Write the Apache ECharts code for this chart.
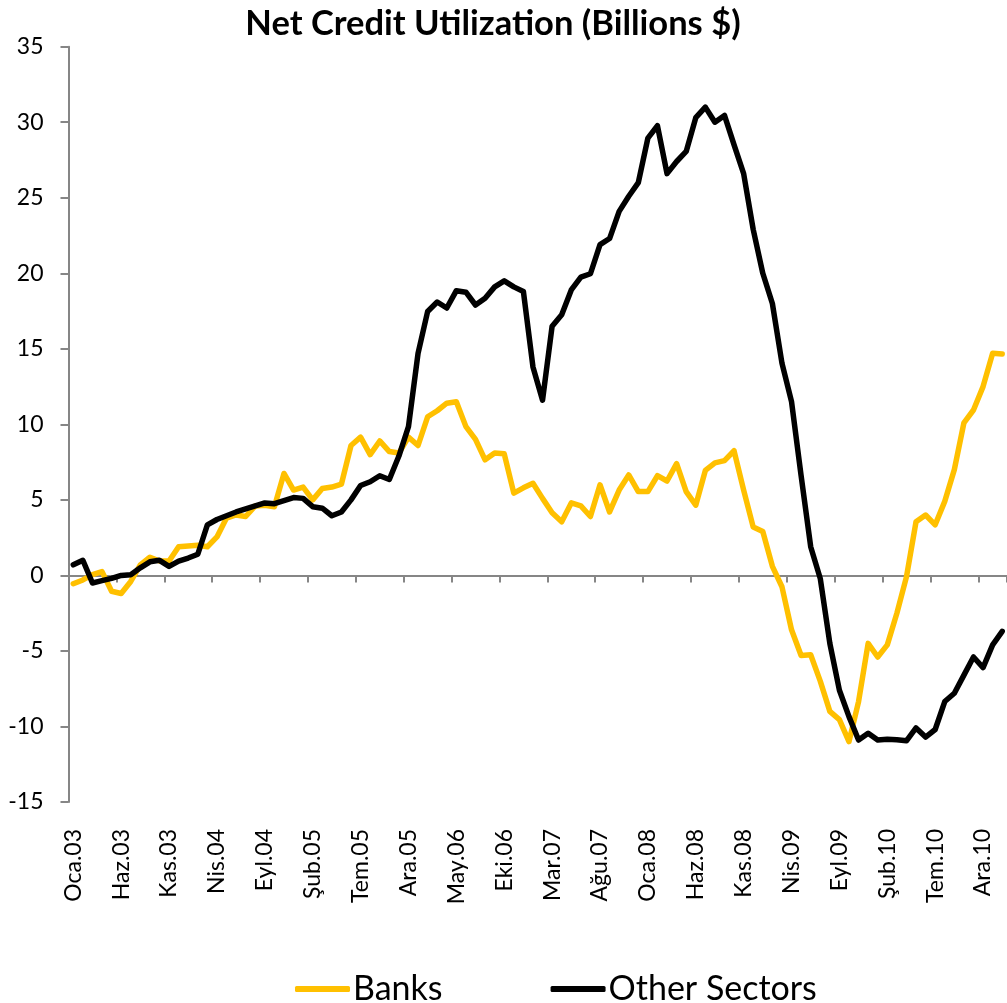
<!DOCTYPE html>
<html>
<head>
<meta charset="utf-8">
<script src="https://cdn.jsdelivr.net/npm/echarts@6/dist/echarts.min.js"></script>
<style>
html,body{margin:0;padding:0;background:#fff;}
#main{width:1007px;height:1003px;}
</style>
</head>
<body>
<div id="main"></div>
<script>
const monthNames = ['Oca','Şub','Mar','Nis','May','Haz','Tem','Ağu','Eyl','Eki','Kas','Ara'];
const yearLabels = ['03','04','05','06','07','08','09','10','11'];
const monthCount = 98;

const banks = [
  -0.55, -0.3, 0.05, 0.25, -1.05, -1.2, -0.4, 0.7, 1.2, 0.95,
  0.95, 1.9, 1.95, 2.0, 1.9, 2.55, 3.8, 4.0, 3.9, 4.6,
  4.65, 4.55, 6.75, 5.65, 5.85, 5.0, 5.75, 5.85, 6.05, 8.6,
  9.15, 8.0, 8.9, 8.2, 8.1, 9.15, 8.6, 10.5, 10.9, 11.4,
  11.5, 9.85, 9.0, 7.65, 8.1, 8.05, 5.45, 5.8, 6.1, 5.1,
  4.15, 3.55, 4.8, 4.6, 3.9, 6.0, 4.2, 5.65, 6.65, 5.55,
  5.55, 6.6, 6.25, 7.4, 5.55, 4.65, 6.95, 7.45, 7.6, 8.25,
  5.65, 3.2, 2.9, 0.6, -0.75, -3.6, -5.3, -5.25, -7.0, -9.0,
  -9.55, -11.0, -8.35, -4.5, -5.4, -4.6, -2.5, -0.1, 3.55, 4.0,
  3.35, 4.9, 7.0, 10.1, 10.95, 12.5, 14.7, 14.65
];

const otherSectors = [
  0.7, 1.0, -0.5, -0.35, -0.2, 0.0, 0.05, 0.5, 0.9, 1.0,
  0.6, 0.95, 1.15, 1.4, 3.35, 3.7, 3.95, 4.2, 4.4, 4.6,
  4.8, 4.75, 4.95, 5.15, 5.1, 4.55, 4.45, 3.95, 4.2, 5.0,
  5.95, 6.2, 6.6, 6.35, 7.9, 9.85, 14.7, 17.47, 18.1, 17.7,
  18.85, 18.75, 17.9, 18.35, 19.1, 19.5, 19.1, 18.8, 13.8, 11.6,
  16.5, 17.25, 18.9, 19.75, 19.97, 21.9, 22.3, 24.1, 25.1, 26.0,
  28.95, 29.77, 26.6, 27.4, 28.07, 30.3, 31.0, 30.0, 30.45, 28.5,
  26.6, 22.9, 20.0, 18.0, 14.05, 11.5, 6.6, 1.9, -0.2, -4.5,
  -7.6, -9.35, -10.9, -10.45, -10.9, -10.85, -10.88, -10.95, -10.1, -10.7,
  -10.2, -8.35, -7.8, -6.6, -5.4, -6.1, -4.6, -3.7
];

const categories = [];
for (let i = 0; i < monthCount; i++) {
  categories.push(monthNames[i % 12] + '.' + yearLabels[Math.floor(i / 12)]);
}

const FONT = 'Lato';
const AXIS_GREY = '#868686';

const chart = echarts.init(document.getElementById('main'), null, {renderer: 'canvas'});
chart.setOption({
  animation: false,
  backgroundColor: '#ffffff',
  title: {
    text: 'Net Credit Utilization (Billions $)',
    left: 488,
    textAlign: 'center',
    top: 1,
    textStyle: {fontFamily: FONT, fontWeight: 'bold', fontSize: 34.5, color: '#000'}
  },
  legend: {
    left: 290,
    top: 967,
    itemGap: 108,
    itemWidth: 55,
    itemHeight: 6,
    icon: 'roundRect',
    textStyle: {fontFamily: FONT, fontSize: 34, color: '#000', padding: [0, 0, 0, -2]},
    data: [
      {name: 'Banks', itemStyle: {color: '#FFC000'}},
      {name: 'Other Sectors', itemStyle: {color: '#000000'}}
    ]
  },
  grid: {left: 68.5, top: 46.7, width: 942.8, bottom: 201, containLabel: false},
  xAxis: [
    {
      type: 'category',
      data: categories,
      boundaryGap: true,
      axisLine: {onZero: true, lineStyle: {color: AXIS_GREY, width: 2}},
      axisTick: {show: true, interval: 4, length: 7, lineStyle: {color: AXIS_GREY, width: 2}},
      axisLabel: {show: false},
      splitLine: {show: false}
    },
    {
      type: 'category',
      data: categories,
      position: 'bottom',
      boundaryGap: true,
      axisLine: {show: false, onZero: false},
      axisTick: {show: false},
      axisLabel: {
        show: true, interval: 4, rotate: 90, margin: 27,
        fontFamily: FONT, fontSize: 23, color: '#000'
      },
      splitLine: {show: false}
    }
  ],
  yAxis: {
    type: 'value',
    min: -15,
    max: 35,
    interval: 5,
    axisLine: {show: true, lineStyle: {color: AXIS_GREY, width: 2}},
    axisTick: {show: true, length: 8, lineStyle: {color: AXIS_GREY, width: 2}},
    axisLabel: {margin: 25, fontFamily: FONT, fontSize: 23, color: '#000'},
    splitLine: {show: false}
  },
  series: [
    {
      name: 'Banks',
      type: 'line',
      xAxisIndex: 0,
      data: banks,
      symbol: 'none',
      lineStyle: {color: '#FFC000', width: 5.5, cap: 'round', join: 'round'},
      itemStyle: {color: '#FFC000'}
    },
    {
      name: 'Other Sectors',
      type: 'line',
      xAxisIndex: 0,
      data: otherSectors,
      symbol: 'none',
      lineStyle: {color: '#000000', width: 5.5, cap: 'round', join: 'round'},
      itemStyle: {color: '#000000'}
    }
  ]
});
</script>
</body>
</html>
